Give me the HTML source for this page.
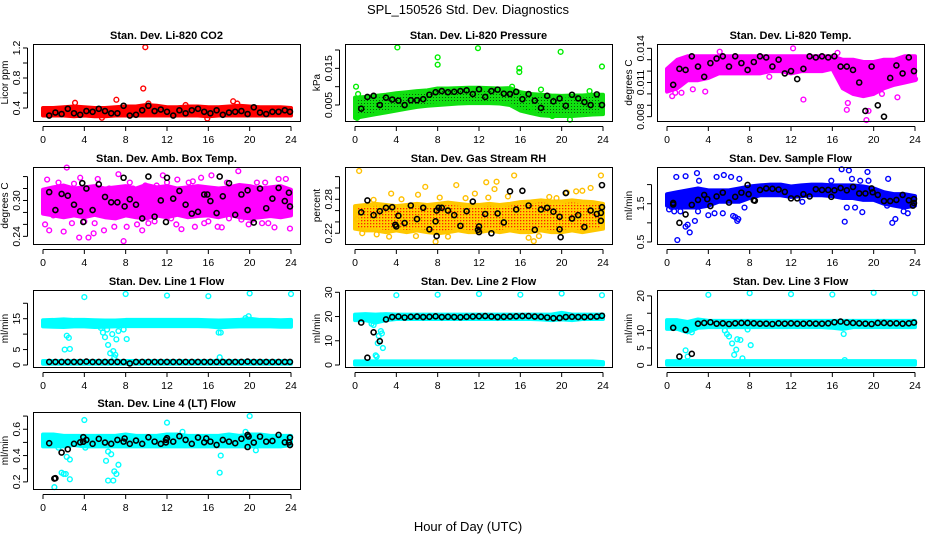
<!DOCTYPE html>
<html><head><meta charset="utf-8">
<style>
html,body{margin:0;padding:0;background:#fff;}
svg{display:block;font-family:"Liberation Sans",sans-serif;}
</style></head>
<body>
<svg id="chart" width="936" height="540" viewBox="0 0 936 540" xmlns="http://www.w3.org/2000/svg">
<defs>
<pattern id="pat-green" width="3" height="3" patternUnits="userSpaceOnUse"><rect width="3" height="3" fill="#10e010"/><rect x="1" y="1" width="1" height="1" fill="#0a5a0a"/></pattern>
<pattern id="pat-orange" width="3" height="3" patternUnits="userSpaceOnUse"><rect width="3" height="3" fill="#ffd200"/><rect x="1" y="1" width="1.3" height="1.3" fill="#ff2000"/></pattern>
</defs>
<text x="468" y="14" text-anchor="middle" font-size="13">SPL_150526  Std. Dev. Diagnostics</text>
<text x="468" y="531" text-anchor="middle" font-size="13">Hour of Day (UTC)</text>
<g id="panels"></g>
</svg>
<script>
// ---------- shared data ----------
const hours = [0,1,2,3,4,5,6,7,8,9,10,11,12,13,14,15,16,17,18,19,20,21,22,23,24];
const xTicks = [0,4,8,12,16,20,24];
const blackX = [0.6,1.2,1.8,2.4,3.0,3.6,4.2,4.8,5.4,6.0,6.6,7.2,7.8,8.4,9.0,9.6,10.2,10.8,11.4,12.0,12.6,13.2,13.8,14.4,15.0,15.6,16.2,16.8,17.4,18.0,18.6,19.2,19.8,20.4,21.0,21.6,22.2,22.8,23.4,23.9];

// Panel 1: CO2
const co2Lo = [0.30,0.30,0.30,0.29,0.30,0.29,0.29,0.30,0.30,0.30,0.30,0.30,0.30,0.30,0.30,0.30,0.29,0.30,0.30,0.30,0.30,0.30,0.30,0.30,0.30];
const co2Hi = [0.40,0.40,0.41,0.42,0.41,0.40,0.40,0.41,0.42,0.42,0.44,0.43,0.41,0.41,0.42,0.42,0.41,0.41,0.42,0.43,0.42,0.41,0.41,0.41,0.40];
const co2Black = [0.30,0.34,0.32,0.39,0.33,0.31,0.36,0.35,0.39,0.36,0.33,0.33,0.43,0.30,0.31,0.37,0.43,0.36,0.38,0.35,0.30,0.37,0.33,0.37,0.39,0.35,0.33,0.37,0.31,0.34,0.35,0.36,0.32,0.41,0.34,0.32,0.35,0.35,0.37,0.35];
const co2OutX = [9.9,9.7,7.1,18.4,3.1,15.9,5.7,18.8,13.8,10.2];
const co2OutY = [1.21,0.66,0.51,0.49,0.47,0.26,0.27,0.46,0.44,0.46];

// Panel 2: Pressure
const presLo = [0.0015,0.0020,0.0025,0.0030,0.0035,0.0040,0.0045,0.0048,0.0050,0.0052,0.0054,0.0055,0.0055,0.0055,0.0054,0.0050,0.0035,0.0028,0.0022,0.0020,0.0020,0.0020,0.0022,0.0024,0.0025];
const presHi = [0.0070,0.0072,0.0075,0.0078,0.0082,0.0085,0.0088,0.0090,0.0095,0.0095,0.0096,0.0097,0.0097,0.0096,0.0095,0.0096,0.0085,0.0080,0.0078,0.0076,0.0075,0.0076,0.0076,0.0078,0.0078];
const presBlack = [0.0040,0.0072,0.0075,0.0050,0.0070,0.0065,0.0062,0.0050,0.0063,0.0063,0.0066,0.0078,0.0085,0.0088,0.0085,0.0086,0.0088,0.0090,0.0080,0.0093,0.0072,0.0088,0.0092,0.0081,0.0080,0.0086,0.0066,0.0080,0.0062,0.0042,0.0075,0.0060,0.0068,0.0048,0.0078,0.0068,0.0058,0.0050,0.0079,0.0050];
const presOutX = [0.1,4.1,8.0,8.0,11.9,15.9,15.9,19.9,23.9,0.2,20.8,19.1,17.0,15.2,0.3,18.0,22.7];
const presOutY = [0.0100,0.0207,0.0180,0.0160,0.0205,0.0150,0.0140,0.0195,0.0155,0.0015,0.0010,0.0020,0.0040,0.0100,0.0080,0.0092,0.0088];

// Panel 3: Li-820 temp
const tempLo = [0.0102,0.0105,0.0112,0.0112,0.0114,0.0118,0.0118,0.0118,0.0118,0.0118,0.0120,0.0120,0.0118,0.0120,0.0120,0.0120,0.0122,0.0105,0.0100,0.0098,0.0100,0.0105,0.0108,0.0110,0.0112];
const tempHi = [0.0122,0.0130,0.0133,0.0133,0.0133,0.0133,0.0133,0.0133,0.0133,0.0133,0.0133,0.0133,0.0133,0.0133,0.0133,0.0133,0.0133,0.0130,0.0130,0.0128,0.0128,0.0130,0.0130,0.0133,0.0133];
const tempBlack = [0.0108,0.0122,0.0121,0.0133,0.0124,0.0115,0.0127,0.0131,0.0133,0.0124,0.0133,0.0127,0.0121,0.0128,0.0133,0.0132,0.0124,0.0130,0.0118,0.0120,0.0113,0.0122,0.0133,0.0132,0.0133,0.0132,0.0133,0.0124,0.0124,0.0121,0.0110,0.0085,0.0124,0.0090,0.0080,0.0114,0.0125,0.0118,0.0132,0.0120];
const tempOutX = [12.2,5.1,13.2,17.4,17.5,19.3,19.5,0.5,3.7,1.4,22.3,20.8,16.5,24.0,0.8,2.5,9.9,18.8];
const tempOutY = [0.0140,0.0137,0.0095,0.0086,0.0092,0.0077,0.0085,0.0098,0.0102,0.0101,0.0097,0.0100,0.0136,0.0113,0.0101,0.0104,0.0115,0.0103];

// Panel 4: Amb box temp
const ambLo = [0.278,0.275,0.272,0.275,0.272,0.276,0.272,0.270,0.275,0.272,0.270,0.275,0.272,0.276,0.272,0.274,0.275,0.272,0.276,0.272,0.270,0.272,0.274,0.272,0.275];
const ambHi = [0.318,0.322,0.325,0.320,0.322,0.324,0.320,0.322,0.324,0.320,0.326,0.322,0.324,0.320,0.322,0.324,0.322,0.320,0.322,0.326,0.324,0.320,0.322,0.324,0.318];
const ambBlack = [0.314,0.284,0.311,0.308,0.293,0.282,0.320,0.284,0.327,0.306,0.297,0.297,0.338,0.302,0.293,0.270,0.340,0.273,0.300,0.338,0.303,0.316,0.293,0.278,0.281,0.310,0.299,0.279,0.307,0.329,0.276,0.310,0.317,0.263,0.320,0.287,0.303,0.321,0.299,0.290];
const ambExtraX = [3.9,3.8,7.9,15.9,19.8,23.8,11.9,17.1];
const ambExtraY = [0.264,0.329,0.290,0.310,0.284,0.313,0.264,0.340];
const ambOutX = [2.3,0.4,0.2,0.6,1.5,2.0,3.6,3.5,4.4,4.9,5.3,5.9,6.4,6.9,7.3,7.8,8.1,8.7,9.1,9.6,10.2,11.0,11.6,12.4,12.9,13.4,14.1,14.7,15.3,15.6,16.3,16.9,17.3,17.8,18.9,19.2,19.9,20.7,21.2,21.8,22.4,22.8,23.5,23.9,1.0,4.0,6.0,9.9,13.0,18.0,2.8,5.0,8.4,10.8,14.5,16.0,20.3,21.5,3.0,12.0];
const ambOutY = [0.355,0.335,0.260,0.250,0.330,0.248,0.338,0.238,0.238,0.245,0.336,0.250,0.320,0.256,0.344,0.232,0.256,0.320,0.260,0.250,0.262,0.325,0.342,0.270,0.260,0.252,0.330,0.256,0.338,0.262,0.342,0.256,0.255,0.330,0.349,0.268,0.260,0.330,0.262,0.262,0.255,0.336,0.336,0.253,0.275,0.265,0.275,0.325,0.335,0.270,0.262,0.262,0.330,0.265,0.332,0.265,0.268,0.330,0.328,0.330];

// Panel 5: RH
const rhLo = [0.228,0.225,0.225,0.222,0.225,0.222,0.225,0.222,0.220,0.222,0.225,0.222,0.222,0.225,0.222,0.225,0.222,0.222,0.225,0.222,0.222,0.225,0.222,0.225,0.228];
const rhHi = [0.268,0.270,0.272,0.270,0.268,0.270,0.272,0.270,0.272,0.274,0.272,0.270,0.270,0.272,0.270,0.272,0.275,0.276,0.278,0.276,0.276,0.278,0.276,0.275,0.272];
const rhBlack = [0.257,0.278,0.252,0.259,0.265,0.266,0.251,0.238,0.269,0.245,0.265,0.227,0.241,0.265,0.260,0.252,0.233,0.259,0.276,0.232,0.254,0.220,0.255,0.239,0.294,0.262,0.295,0.269,0.226,0.262,0.265,0.258,0.249,0.291,0.246,0.252,0.231,0.260,0.254,0.305];
const rhExtraX = [3.9,4.0,7.9,7.9,11.9,12.0,19.9,19.8,23.9,23.8,23.8,8.1];
const rhExtraY = [0.235,0.232,0.215,0.260,0.226,0.222,0.213,0.227,0.266,0.256,0.242,0.265];
const rhOutX = [0.4,3.5,6.1,6.8,8.2,9.8,12.7,13.7,15.4,17.3,7.8,0.7,3.3,2.1,14.8,18.8,20.5,22.8,23.8,21.4,22.0,16.8,10.7,11.6,1.8,5.9,9.0,13.5,4.5,17.8,19.5,0.2,12.9];
const rhOutY = [0.330,0.290,0.288,0.302,0.283,0.305,0.310,0.311,0.322,0.206,0.205,0.220,0.214,0.218,0.285,0.284,0.292,0.300,0.322,0.294,0.295,0.212,0.282,0.290,0.279,0.215,0.214,0.298,0.280,0.215,0.282,0.245,0.283];

// Panel 6: Sample flow
const flowLo = [1.45,1.40,1.40,1.40,1.45,1.55,1.55,1.55,1.65,1.72,1.72,1.72,1.68,1.70,1.72,1.72,1.70,1.65,1.65,1.60,1.60,1.50,1.45,1.40,1.45];
const flowHi = [1.75,1.80,1.85,1.90,1.85,1.85,1.85,1.90,1.95,1.98,2.00,2.00,1.95,1.98,2.00,2.00,1.98,1.98,1.98,1.95,1.90,1.80,1.75,1.75,1.70];
const flowBlack = [1.48,1.00,1.22,1.47,1.60,1.73,1.44,1.69,1.79,1.53,1.68,1.79,1.99,1.59,1.86,1.90,1.89,1.87,1.81,1.64,1.64,1.75,1.69,1.88,1.86,1.86,1.85,1.91,1.85,1.94,1.77,1.77,1.90,1.73,1.57,1.57,1.60,1.73,1.59,1.52];
const flowExtraX = [0.6,7.9,15.9,23.8,23.9,8.5,19.9,3.9];
const flowExtraY = [1.52,1.75,1.68,1.45,1.62,1.58,1.80,1.62];
const flowOutX = [0.9,1.8,2.9,3.1,4.8,5.5,6.2,7.0,1.0,2.2,1.8,2.0,2.7,6.8,6.6,6.4,4.0,4.6,5.4,1.3,0.7,3.0,6.9,7.5,16.9,17.6,19.4,17.9,18.7,19.5,21.4,17.2,21.8,22.1,17.4,18.2,18.9,21.3,22.9,23.3,15.9,0.2,3.7,13.1,0.4];
const flowOutY = [2.20,2.22,2.30,2.10,2.20,2.25,2.20,2.15,0.55,0.75,0.90,0.95,1.05,1.05,1.15,1.18,1.20,1.25,1.25,1.30,1.30,1.30,1.10,1.40,2.40,2.37,2.33,2.15,2.10,2.10,2.15,1.03,1.00,1.10,1.40,1.40,1.28,1.45,1.30,1.25,2.10,1.35,1.55,1.55,1.42];

// Panel 7: Line 1 flow
const l1UpLo = [12.5,12.4,12.3,12.5,12.5,12.3,12.4,12.5,12.6,12.6,12.6,12.6,12.6,12.6,12.6,12.6,12.5,12.2,12.4,12.5,12.5,12.5,12.5,12.4,12.4];
const l1UpHi = [14.5,14.6,14.8,14.6,14.6,14.5,14.4,14.4,14.6,14.6,14.6,14.6,14.6,14.6,14.6,14.6,14.5,14.4,14.5,14.6,15.0,14.6,14.6,14.5,14.6];
const l1DnLo = [0.4,0.4,0.4,0.4,0.4,0.4,0.4,0.4,0.4,0.4,0.4,0.4,0.4,0.4,0.4,0.4,0.4,0.4,0.4,0.4,0.4,0.4,0.4,0.4,0.4];
const l1DnHi = [1.3,1.3,1.3,1.3,1.3,1.3,1.3,1.3,1.3,1.3,1.3,1.3,1.3,1.3,1.3,1.3,1.3,1.3,1.3,1.3,1.3,1.3,1.3,1.3,1.3];
const l1Black = [1.0,1.0,1.0,1.0,1.0,1.0,1.1,1.0,1.0,1.0,1.0,1.0,1.0,0.5,1.0,1.0,1.0,1.0,1.0,1.0,1.0,1.0,1.0,1.0,1.0,1.0,1.0,1.0,1.0,1.0,1.0,1.0,1.1,1.0,1.0,1.0,1.0,1.0,1.0,1.0];
const l1OutX = [4.0,8.0,12.0,16.0,20.0,24.0,2.1,2.3,2.5,2.6,5.8,6.0,6.2,6.3,6.5,6.7,6.8,7.0,7.1,7.3,7.8,8.1,17.0,17.2,17.1,19.6,19.9,6.9,5.6];
const l1OutY = [22.0,23.0,22.5,22.3,23.2,23.0,5.0,9.5,8.8,5.2,10.5,9.0,11.5,6.5,3.8,10.0,4.5,3.3,8.3,11.0,11.5,8.4,10.5,10.5,2.5,15.2,15.8,2.5,12.0];

// Panel 8: Line 2 flow
const l2UpLo = [18.5,18.5,17.5,18.5,19.0,19.0,19.0,19.0,19.0,19.0,19.0,19.0,19.0,19.0,19.0,19.0,19.0,19.0,18.8,18.5,18.8,18.5,19.0,19.0,19.0];
const l2UpHi = [20.8,21.0,20.8,21.0,20.8,20.8,20.8,20.8,20.8,20.8,20.8,20.8,20.8,20.8,20.8,20.8,20.8,20.8,20.8,20.8,21.5,20.8,20.8,20.8,20.8];
const l2DnLo = [0.2,0.2,0.2,0.2,0.2,0.2,0.2,0.2,0.2,0.2,0.2,0.2,0.2,0.2,0.2,0.2,0.2,0.2,0.2,0.2,0.2,0.2,0.2,0.2,0.2];
const l2DnHi = [1.5,1.5,1.5,1.5,1.5,1.5,1.5,1.5,1.5,1.5,1.5,1.5,1.5,1.5,1.5,1.5,1.5,1.5,1.5,1.5,1.5,1.5,1.5,1.5,1.2];
const l2Black = [17.5,3.0,13.5,9.8,18.8,19.8,20.0,19.6,19.9,20.0,19.8,19.9,20.1,19.8,19.9,19.8,19.7,19.9,20.0,20.1,20.2,20.0,19.8,19.9,20.0,20.1,20.2,20.2,20.0,19.9,19.6,19.3,19.4,19.8,19.9,19.8,19.8,19.9,20.0,20.3];
const l2OutX = [4.0,8.0,12.0,16.0,20.0,23.9,1.6,1.8,2.0,2.1,2.2,2.3,2.5,2.6,2.7,2.0,15.5];
const l2OutY = [28.8,29.0,29.3,29.0,29.5,28.8,17.0,16.5,4.0,3.5,9.0,12.0,14.0,13.0,7.0,18.0,2.0];

// Panel 9: Line 3 flow
const l3UpLo = [10.5,10.5,9.5,10.8,11.0,11.0,11.0,11.0,11.0,11.0,11.0,11.0,11.0,11.0,11.0,11.0,10.8,10.5,11.0,11.0,11.0,11.0,11.0,11.0,11.0];
const l3UpHi = [13.0,13.0,12.5,13.2,12.8,12.8,12.8,12.8,12.8,12.8,12.8,12.8,12.8,12.8,12.8,12.8,12.8,12.8,12.8,12.8,12.8,12.8,12.8,12.8,12.8];
const l3DnLo = [0.2,0.2,0.2,0.2,0.2,0.2,0.2,0.2,0.2,0.2,0.2,0.2,0.2,0.2,0.2,0.2,0.2,0.2,0.2,0.2,0.2,0.2,0.2,0.2,0.2];
const l3DnHi = [1.2,1.2,1.2,1.2,1.2,1.2,1.2,1.2,1.2,1.2,1.2,1.2,1.2,1.2,1.2,1.2,1.2,1.2,1.2,1.2,1.2,1.2,1.2,1.2,1.2];
const l3Black = [10.8,2.5,10.2,3.3,12.0,12.2,12.4,12.0,12.1,11.9,12.1,12.2,12.2,12.1,12.0,12.0,11.9,12.1,12.0,12.1,12.0,12.0,12.1,12.0,12.0,12.1,12.4,12.6,12.3,12.2,12.1,12.0,11.9,12.2,12.2,12.1,12.1,12.0,12.1,12.3];
const l3OutX = [4.0,8.0,12.0,16.0,20.0,24.0,5.6,5.8,6.0,6.3,6.5,6.7,6.8,7.1,7.3,8.1,7.8,17.1,17.2,1.8,2.0,2.4];
const l3OutY = [20.3,20.8,20.5,20.4,20.9,20.8,10.0,9.0,8.3,6.3,3.0,4.5,7.5,7.3,2.0,5.8,10.3,9.0,1.5,4.3,2.5,9.5];

// Panel 10: Line 4 (LT) flow
const l4Lo = [0.47,0.47,0.47,0.48,0.47,0.47,0.47,0.47,0.47,0.47,0.47,0.47,0.47,0.47,0.47,0.47,0.47,0.47,0.47,0.47,0.47,0.47,0.47,0.47,0.48];
const l4Hi = [0.56,0.56,0.55,0.55,0.55,0.55,0.55,0.55,0.56,0.55,0.55,0.55,0.56,0.56,0.55,0.55,0.55,0.55,0.56,0.55,0.56,0.56,0.55,0.55,0.55];
const l4Black = [0.494,0.228,0.423,0.448,0.489,0.501,0.519,0.489,0.527,0.499,0.489,0.519,0.506,0.489,0.514,0.489,0.539,0.506,0.489,0.532,0.506,0.547,0.519,0.489,0.537,0.501,0.506,0.481,0.519,0.506,0.494,0.527,0.557,0.499,0.544,0.506,0.511,0.557,0.501,0.537];
const l4ExtraX = [1.1,3.9,3.9,7.9,11.9,11.9,15.8,19.8,19.9,23.9,23.8];
const l4ExtraY = [0.225,0.540,0.505,0.530,0.520,0.500,0.530,0.465,0.545,0.480,0.500];
const l4OutX = [4.0,12.0,20.0,13.5,19.6,1.1,1.5,2.3,2.6,1.8,2.0,2.2,2.6,6.1,6.3,6.6,6.3,6.8,6.9,7.1,7.3,17.2,17.1,20.6,4.1,0.4,1.0];
const l4OutY = [0.67,0.65,0.70,0.58,0.58,0.16,0.46,0.39,0.37,0.27,0.26,0.26,0.22,0.36,0.43,0.41,0.21,0.21,0.28,0.26,0.33,0.40,0.27,0.44,0.46,0.55,0.53];

// ---------- rendering ----------
const NS = "http://www.w3.org/2000/svg";
const root = document.getElementById('panels');
const colLeft = [33,345,657], rowTop = [44,167,290,412], BW = 267, BH = 77;

function mk(tag, attrs, parent){
  const e = document.createElementNS(NS, tag);
  for (const k in attrs) e.setAttribute(k, attrs[k]);
  parent.appendChild(e);
  return e;
}

function drawPanel(p){
  const L = colLeft[p.col], T = rowTop[p.row], B = T + BH;
  const g = mk('g', {}, root);
  
  
  const xs = h => L + 10 + h * (248/24);
  const ys = v => T + (p.top - v) / (p.top - p.bot) * BH;
  const clipId = 'clip-' + p.name;
  const cp = mk('clipPath', {id: clipId}, g);
  mk('rect', {x: L, y: T - 3, width: BW, height: BH + 6}, cp);
  const plot = mk('g', {'clip-path': 'url(#' + clipId + ')'}, g);

  // bands
  p.bands.forEach((b, i) => {
    let pts = hours.map((h, j) => xs(h) + ',' + ys(b.hi[j]));
    pts = pts.concat(hours.slice().reverse().map((h, j) => xs(h) + ',' + ys(b.lo[hours.length - 1 - j])));
    const poly = mk('polygon', {points: pts.join(' '), fill: b.fill, stroke: b.stroke, 'stroke-width': 4, 'stroke-linejoin': 'round'}, plot);
    
    
  });
  // colored outliers
  p.outX.forEach((x, i) => {
    const c = mk('circle', {cx: xs(x), cy: ys(p.outY[i]), r: 2.4, fill: 'none', stroke: p.color, 'stroke-width': 1.4}, plot);
    
    
  });
  // black hourly points
  blackX.forEach((x, i) => {
    const c = mk('circle', {cx: xs(x), cy: ys(p.black[i]), r: 2.5, fill: 'none', stroke: '#000', 'stroke-width': 1.6}, plot);
    
    
  });
  (p.exX || []).forEach((x, i) => {
    const c = mk('circle', {cx: xs(x), cy: ys(p.exY[i]), r: 2.5, fill: 'none', stroke: '#000', 'stroke-width': 1.6}, plot);
    
    
  });

  // box
  const box = mk('rect', {x: L + 0.5, y: T + 0.5, width: BW, height: BH, fill: 'none', stroke: '#000', 'stroke-width': 1}, g);
  
  
  // title
  const t = mk('text', {x: L + BW/2, y: T - 5, 'text-anchor': 'middle', 'font-size': 11, 'font-weight': 'bold'}, g);
  t.textContent = p.title;
  
  
  // x axis
  mk('line', {x1: xs(0), x2: xs(24), y1: B + 5.5, y2: B + 5.5, stroke: '#000'}, g);
  xTicks.forEach(h => {
    mk('line', {x1: xs(h), x2: xs(h), y1: B + 5.5, y2: B + 10, stroke: '#000'}, g);
    const tl = mk('text', {x: xs(h), y: B + 22, 'text-anchor': 'middle', 'font-size': 10.5}, g);
    tl.textContent = h;
    
    
  });
  // y axis
  const yt0 = ys(p.ticks[0]), yt1 = ys(p.ticks[p.ticks.length - 1]);
  mk('line', {x1: L - 5.5, x2: L - 5.5, y1: yt0, y2: yt1, stroke: '#000'}, g);
  p.ticks.forEach((v, i) => {
    mk('line', {x1: L - 10, x2: L - 5.5, y1: ys(v), y2: ys(v), stroke: '#000'}, g);
    if (p.labels[i]) {
      const tl = mk('text', {x: 0, y: 0, 'text-anchor': 'middle', 'font-size': 10.5, transform: 'translate(' + (L - 13) + ',' + ys(v) + ') rotate(-90)'}, g);
      tl.textContent = p.labels[i];
      
      
    }
  });
  const yl = mk('text', {x: 0, y: 0, 'text-anchor': 'middle', 'font-size': 10, transform: 'translate(' + (L - 25) + ',' + (T + BH/2) + ') rotate(-90)'}, g);
  yl.textContent = p.ylab;
  
  
}

const CY = '#00ffff';
const panels = [
 {name:'panel-co2', col:0,row:0,title:'Stan. Dev. Li-820 CO2', ylab:'Licor ppm', top:1.253, bot:0.227, ticks:[0.4,0.6,0.8,1.0,1.2], labels:['0.4','','0.8','','1.2'], color:'#ff0000', bands:[{lo:co2Lo,hi:co2Hi,fill:'#ff0000',stroke:'#ff0000'}], outX:co2OutX,outY:co2OutY, black:co2Black},
 {name:'panel-pressure', col:1,row:0,title:'Stan. Dev. Li-820 Pressure', ylab:'kPa', top:0.02164, bot:0.00064, ticks:[0.005,0.010,0.015,0.020], labels:['0.005','','0.015',''], color:'#00ee00', bands:[{lo:presLo,hi:presHi,fill:'url(#pat-green)',stroke:'#10e010'}], outX:presOutX,outY:presOutY, black:presBlack},
 {name:'panel-li820-temp', col:2,row:0,title:'Stan. Dev. Li-820 Temp.', ylab:'degrees C', top:0.01438, bot:0.00762, ticks:[0.008,0.009,0.010,0.011,0.012,0.013,0.014], labels:['0.008','','','0.011','','','0.014'], color:'#ff00ff', bands:[{lo:tempLo,hi:tempHi,fill:'#ff00ff',stroke:'#ff00ff'}], outX:tempOutX,outY:tempOutY, black:tempBlack},
 {name:'panel-amb-box-temp', col:0,row:1,title:'Stan. Dev. Amb. Box Temp.', ylab:'degrees C', top:0.356, bot:0.2272, ticks:[0.24,0.26,0.28,0.30,0.32,0.34], labels:['0.24','','','0.30','',''], color:'#ff00ff', bands:[{lo:ambLo,hi:ambHi,fill:'#ff00ff',stroke:'#ff00ff'}], outX:ambOutX,outY:ambOutY, black:ambBlack, exX:ambExtraX, exY:ambExtraY},
 {name:'panel-gas-stream-rh', col:1,row:1,title:'Stan. Dev. Gas Stream RH', ylab:'percent', top:0.337, bot:0.201, ticks:[0.22,0.24,0.26,0.28,0.30,0.32], labels:['0.22','','','0.28','',''], color:'#ffc000', bands:[{lo:rhLo,hi:rhHi,fill:'url(#pat-orange)',stroke:'#ffc800'}], outX:rhOutX,outY:rhOutY, black:rhBlack, exX:rhExtraX, exY:rhExtraY},
 {name:'panel-sample-flow', col:2,row:1,title:'Stan. Dev. Sample Flow', ylab:'ml/min', top:2.46, bot:0.447, ticks:[0.5,1.0,1.5,2.0], labels:['0.5','','1.5',''], color:'#0000ff', bands:[{lo:flowLo,hi:flowHi,fill:'#0000ff',stroke:'#0000ff'}], outX:flowOutX,outY:flowOutY, black:flowBlack, exX:flowExtraX, exY:flowExtraY},
 {name:'panel-line1-flow', col:0,row:2,title:'Stan. Dev. Line 1 Flow', ylab:'ml/min', top:24.3, bot:-0.65, ticks:[0,5,10,15,20], labels:['0','5','','15',''], color:CY, bands:[{lo:l1UpLo,hi:l1UpHi,fill:CY,stroke:CY},{lo:l1DnLo,hi:l1DnHi,fill:CY,stroke:CY}], outX:l1OutX,outY:l1OutY, black:l1Black},
 {name:'panel-line2-flow', col:1,row:2,title:'Stan. Dev. Line 2 Flow', ylab:'ml/min', top:30.95, bot:-0.83, ticks:[0,10,20,30], labels:['0','10','20','30'], color:CY, bands:[{lo:l2UpLo,hi:l2UpHi,fill:CY,stroke:CY},{lo:l2DnLo,hi:l2DnHi,fill:CY,stroke:CY}], outX:l2OutX,outY:l2OutY, black:l2Black},
 {name:'panel-line3-flow', col:2,row:2,title:'Stan. Dev. Line 3 Flow', ylab:'ml/min', top:21.7, bot:-0.5, ticks:[0,5,10,15,20], labels:['0','5','10','','20'], color:CY, bands:[{lo:l3UpLo,hi:l3UpHi,fill:CY,stroke:CY},{lo:l3DnLo,hi:l3DnHi,fill:CY,stroke:CY}], outX:l3OutX,outY:l3OutY, black:l3Black},
 {name:'panel-line4-flow', col:0,row:3,title:'Stan. Dev. Line 4 (LT) Flow', ylab:'ml/min', top:0.731, bot:0.146, ticks:[0.2,0.3,0.4,0.5,0.6,0.7], labels:['0.2','','0.4','','0.6',''], color:CY, bands:[{lo:l4Lo,hi:l4Hi,fill:CY,stroke:CY}], outX:l4OutX,outY:l4OutY, black:l4Black, exX:l4ExtraX, exY:l4ExtraY}
];
panels.forEach(drawPanel);
</script>
</body></html>
